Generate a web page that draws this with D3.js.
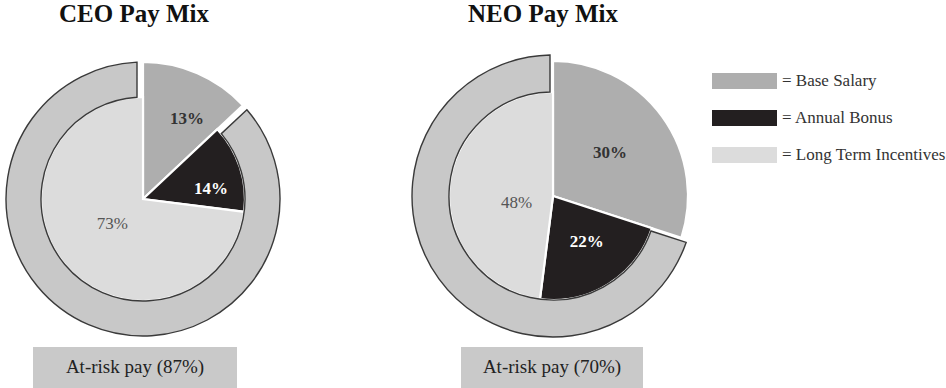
<!DOCTYPE html>
<html>
<head>
<meta charset="utf-8">
<script src="https://cdn.jsdelivr.net/npm/d3@7"></script>
<style>
  html, body { margin: 0; padding: 0; background: #fff; }
  svg { display: block; }
  svg text { font-family: "Liberation Serif", "Times New Roman", "DejaVu Serif", serif; }
</style>
</head>
<body>
<script>
// categories and values
const categories = ["Base Salary", "Annual Bonus", "Long Term Incentives"];
const ceoMix = [13, 14, 73];
const neoMix = [30, 22, 48];
const titles = ["CEO Pay Mix", "NEO Pay Mix"];
const atRisk = [87, 70];

const width = 946, height = 388;

const color = d3.scaleOrdinal()
  .domain(categories)
  .range(["#aeaeae", "#231f20", "#dcdcdc"]);

const labelStyle = {
  "Base Salary": {fill: "#333", weight: "bold"},
  "Annual Bonus": {fill: "#fff", weight: "bold"},
  "Long Term Incentives": {fill: "#555", weight: "normal"}
};

// per-chart placement; labelR = distance of each % label from the centre
const layouts = [
  {cx: 143, cy: 199, rBase: 137, rInner: 102, rOuter: 137, gap: 6, boxX: 33, boxW: 204, titleX: 134,
   labelR: [92, 69, 39], labelTurn: [0.09, 0.15, 0.06]},
  {cx: 553, cy: 196, rBase: 135, rInner: 104, rOuter: 141, gap: 3, boxX: 461, boxW: 182, titleX: 543,
   labelR: [72, 56, 37], labelTurn: [-0.03, -0.08, -0.24]}
];

const svg = d3.select("body").append("svg")
  .attr("width", width)
  .attr("height", height);

const pie = d3.pie().sort(null).value((d) => d.value);

[ceoMix, neoMix].forEach((mix, i) => {
  const L = layouts[i];
  const data = mix.map((v, j) => ({category: categories[j], value: v, index: j}));
  const arcs = pie(data);

  svg.append("text")
    .attr("x", L.titleX)
    .attr("y", 22)
    .attr("text-anchor", "middle")
    .attr("font-size", 25)
    .attr("font-weight", "bold")
    .attr("fill", "#111")
    .text(titles[i]);

  const g = svg.append("g").attr("transform", `translate(${L.cx},${L.cy})`);

  const sliceArc = (d) => d3.arc()
    .innerRadius(0)
    .outerRadius(d.data.category === "Base Salary" ? L.rBase : L.rInner)(d);

  g.selectAll("path.slice")
    .data(arcs)
    .join("path")
    .attr("class", "slice")
    .attr("d", sliceArc)
    .attr("fill", (d) => color(d.data.category))
    .attr("stroke", "#fff")
    .attr("stroke-width", 2.2)
    .attr("stroke-linejoin", "miter");

  // outer ring spanning the at-risk part (bonus + LTI)
  const ring = d3.arc()
    .innerRadius(L.rInner)
    .outerRadius(L.rOuter)
    .padRadius(L.rOuter)
    .padAngle((2 * L.gap) / L.rOuter);

  g.append("path")
    .attr("d", ring({startAngle: arcs[1].startAngle, endAngle: 2 * Math.PI}))
    .attr("fill", "#c8c8c8")
    .attr("stroke", "#3a3a3a")
    .attr("stroke-width", 1.4);

  g.selectAll("text.pct")
    .data(arcs)
    .join("text")
    .attr("class", "pct")
    .attr("transform", (d) => {
      const j = d.data.index;
      const r = L.labelR[j];
      const a = (d.startAngle + d.endAngle) / 2 + L.labelTurn[j];
      return `translate(${r * Math.sin(a)},${-r * Math.cos(a)})`;
    })
    .attr("dy", "0.35em")
    .attr("text-anchor", "middle")
    .attr("font-size", 17)
    .attr("font-weight", (d) => labelStyle[d.data.category].weight)
    .attr("fill", (d) => labelStyle[d.data.category].fill)
    .text((d) => `${d.data.value}%`);

  svg.append("rect")
    .attr("x", L.boxX)
    .attr("y", 347)
    .attr("width", L.boxW)
    .attr("height", 41)
    .attr("fill", "#c9c9c9");

  svg.append("text")
    .attr("x", L.boxX + L.boxW / 2)
    .attr("y", 373)
    .attr("text-anchor", "middle")
    .attr("font-size", 19)
    .attr("fill", "#222")
    .text(`At-risk pay (${atRisk[i]}%)`);
});

// legend
const legend = svg.append("g").attr("transform", "translate(712,73)");
const rows = legend.selectAll("g")
  .data(categories)
  .join("g")
  .attr("transform", (d, i) => `translate(0,${i * 37})`);

rows.append("rect")
  .attr("width", 65)
  .attr("height", 16)
  .attr("fill", (d) => color(d));

rows.append("text")
  .attr("x", 70)
  .attr("y", 13)
  .attr("font-size", 17)
  .attr("fill", "#333")
  .text((d) => `= ${d}`);
</script>
</body>
</html>
